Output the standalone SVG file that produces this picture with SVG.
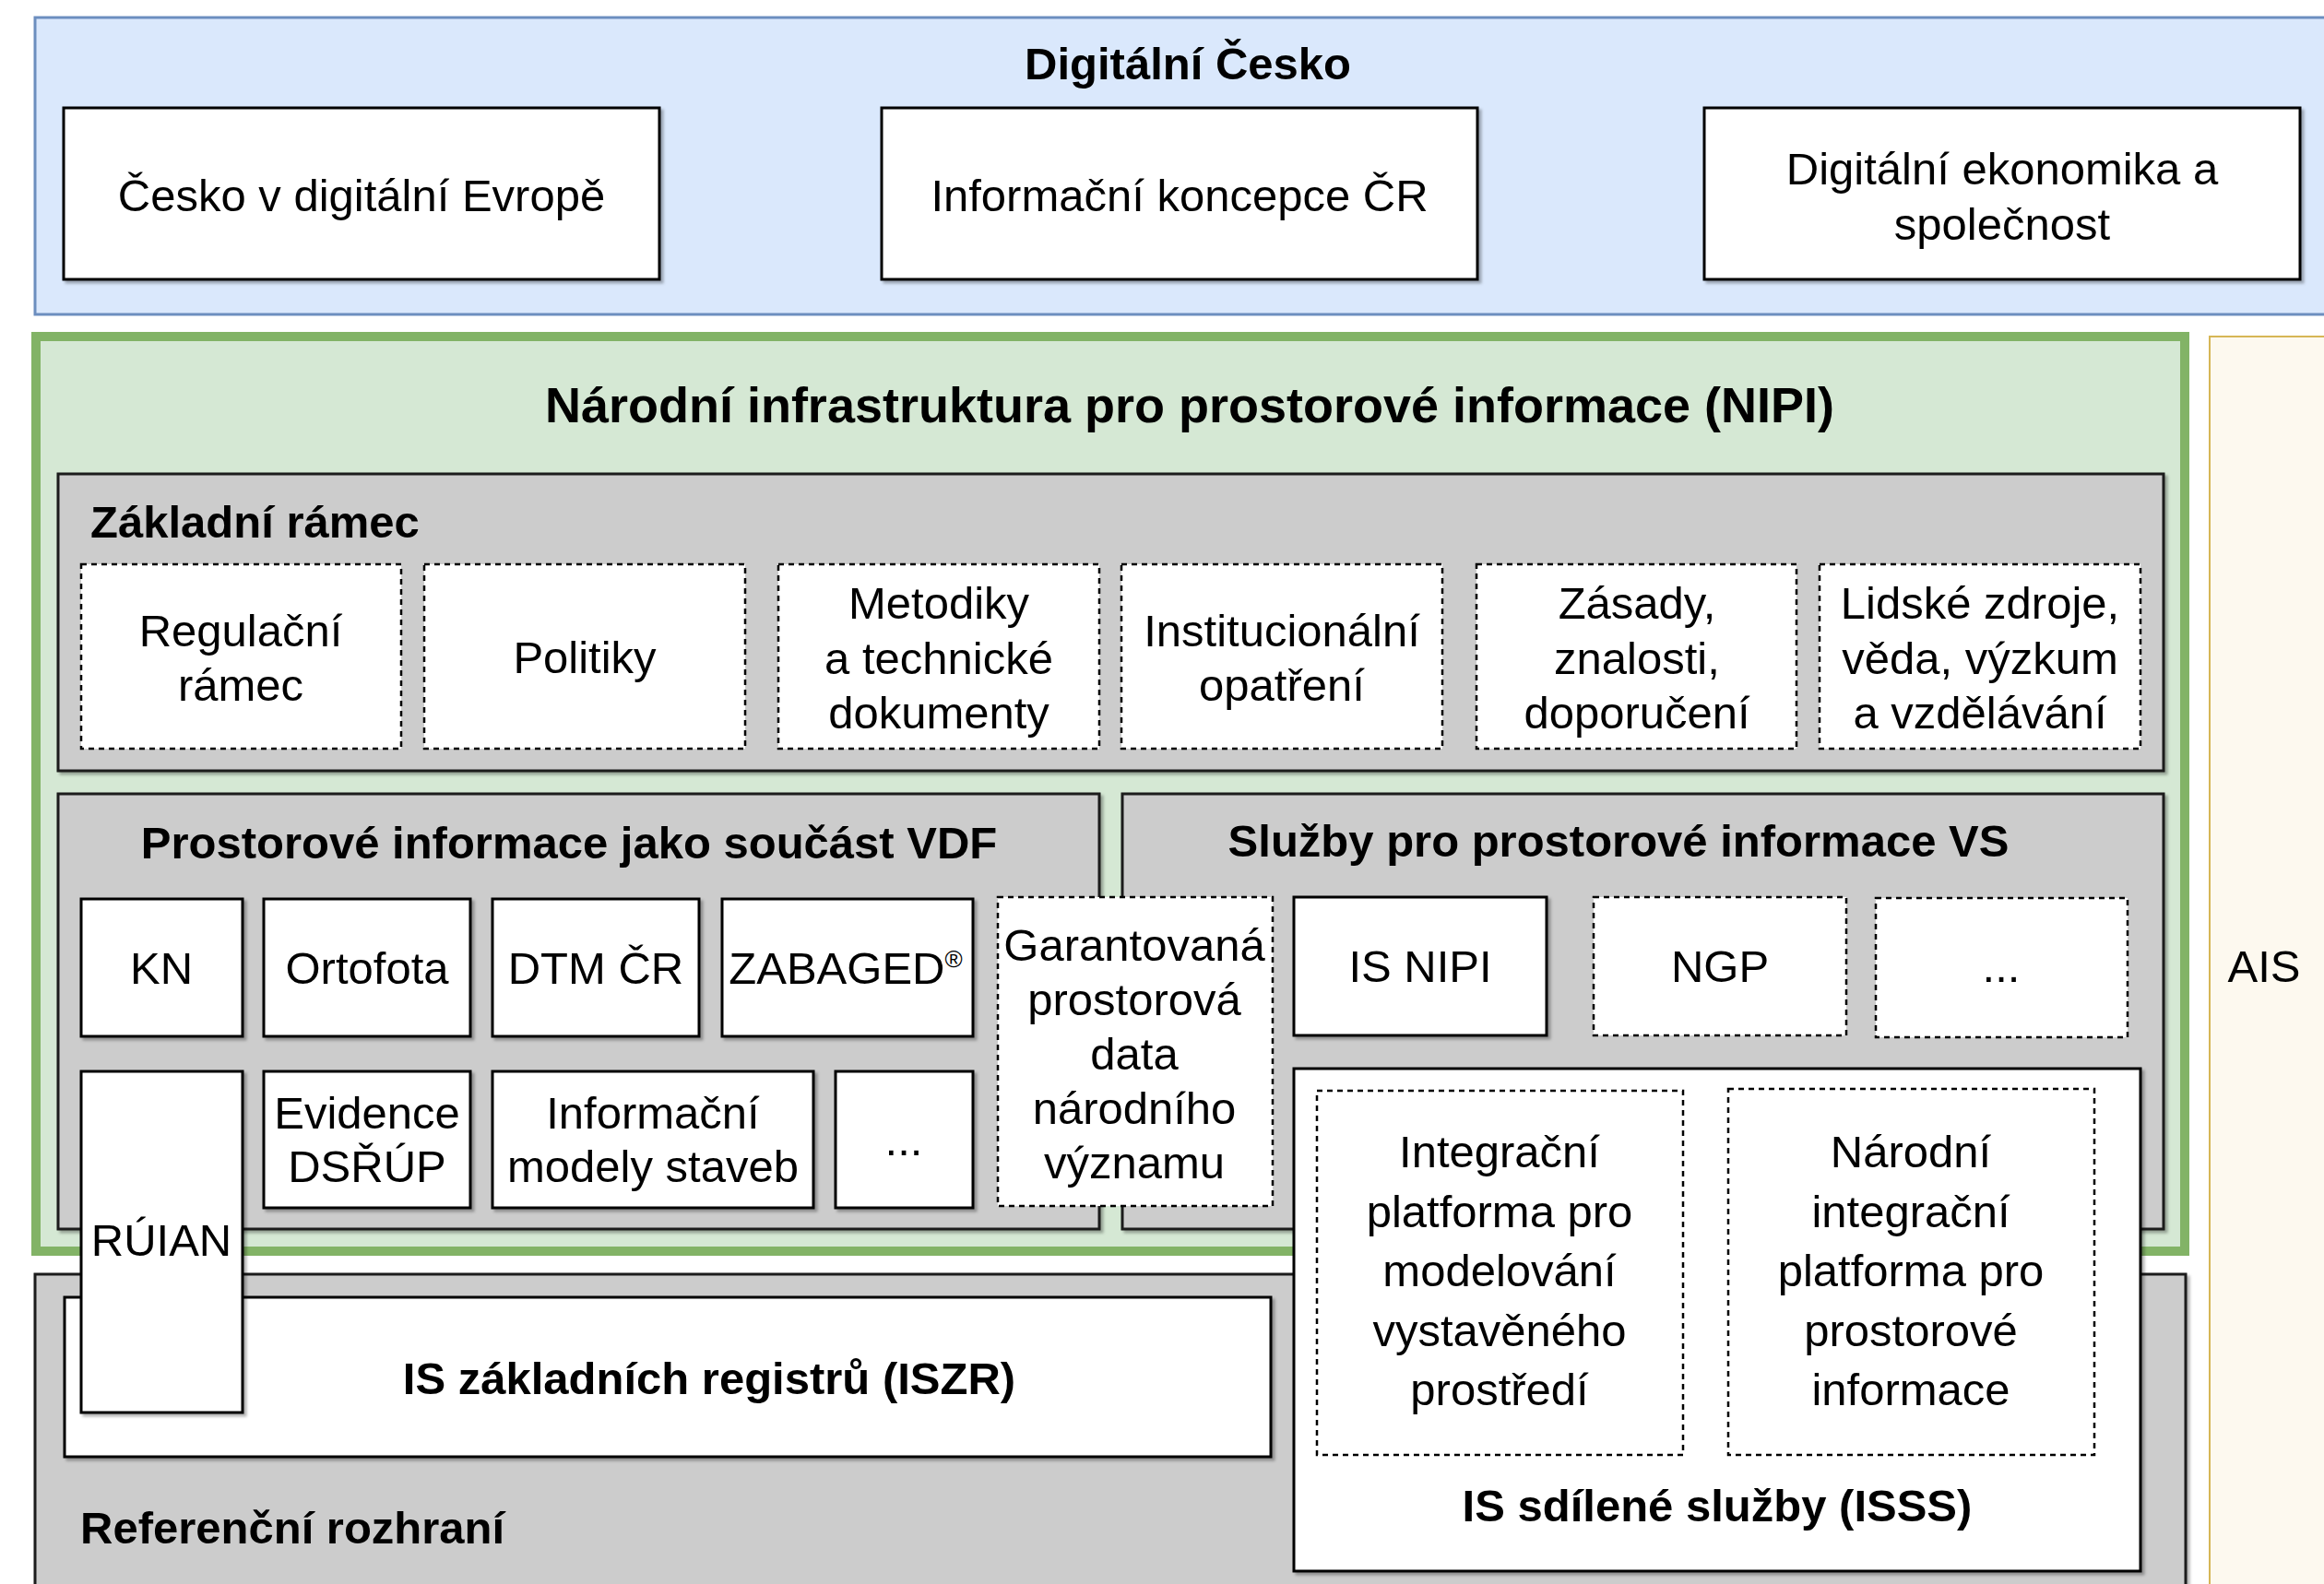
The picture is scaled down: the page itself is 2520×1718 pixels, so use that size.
<svg xmlns="http://www.w3.org/2000/svg" width="2520" height="1718" viewBox="0 0 2520 1718">
<defs>
<filter id="sh" x="-5%" y="-5%" width="115%" height="115%">
<feDropShadow dx="3" dy="3" stdDeviation="1.5" flood-color="#000" flood-opacity="0.3"/>
</filter>
<style>
text{font-family:"Liberation Sans",Arial,sans-serif;font-size:49px;fill:#000;text-anchor:middle}
.b{font-weight:bold}
.l{text-anchor:start}
.solid{fill:#fff;stroke:#000;stroke-width:3}
.dash{fill:#fff;stroke:#000;stroke-width:2.5;stroke-dasharray:6 5}
.gray{fill:#cccccc;stroke:#1a1a1a;stroke-width:3}
</style>
</defs>
<rect width="2520" height="1718" fill="#fff"/>

<g id="digitalni-cesko">
<rect x="38" y="19" width="2490" height="322" fill="#dae8fc" stroke="#6c8ebf" stroke-width="3"/>
<text class="b" x="1288" y="86">Digitální Česko</text>
</g>
<g id="cesko-v-digitalni-evrope">
<rect class="solid" filter="url(#sh)" x="69" y="117" width="646" height="186"/>
<text x="392" y="229">Česko v digitální Evropě</text>
</g>
<g id="informacni-koncepce">
<rect class="solid" filter="url(#sh)" x="956" y="117" width="646" height="186"/>
<text x="1279" y="229">Informační koncepce ČR</text>
</g>
<g id="digitalni-ekonomika">
<rect class="solid" filter="url(#sh)" x="1848" y="117" width="646" height="186"/>
<text x="2171" y="200">Digitální ekonomika a</text>
<text x="2171" y="260">společnost</text>
</g>

<g id="ais">
<rect x="2396" y="365" width="140" height="1370" fill="#fdf9ef" stroke="#d6b656" stroke-width="2"/>
<text x="2455" y="1065">AIS</text>
</g>

<g id="nipi">
<rect x="39" y="365" width="2330" height="992" fill="#d5e8d4" stroke="#82b366" stroke-width="10"/>
<text class="b" x="1290" y="458" style="font-size:54px">Národní infrastruktura pro prostorové informace (NIPI)</text>
</g>

<g id="zakladni-ramec">
<rect class="gray" filter="url(#sh)" x="63" y="514" width="2283" height="322"/>
<text class="b l" x="98" y="583">Základní rámec</text>
</g>
<g id="regulacni-ramec">
<rect class="dash" x="88" y="612" width="347" height="200"/>
<text x="261" y="701">Regulační</text>
<text x="261" y="760">rámec</text>
</g>
<g id="politiky">
<rect class="dash" x="460" y="612" width="348" height="200"/>
<text x="634" y="730">Politiky</text>
</g>
<g id="metodiky">
<rect class="dash" x="844" y="612" width="348" height="200"/>
<text x="1018" y="671">Metodiky</text>
<text x="1018" y="731">a technické</text>
<text x="1018" y="790">dokumenty</text>
</g>
<g id="institucionalni">
<rect class="dash" x="1216" y="612" width="348" height="200"/>
<text x="1390" y="701">Institucionální</text>
<text x="1390" y="760">opatření</text>
</g>
<g id="zasady">
<rect class="dash" x="1601" y="612" width="347" height="200"/>
<text x="1775" y="671">Zásady,</text>
<text x="1775" y="731">znalosti,</text>
<text x="1775" y="790">doporučení</text>
</g>
<g id="lidske-zdroje">
<rect class="dash" x="1973" y="612" width="348" height="200"/>
<text x="2147" y="671">Lidské zdroje,</text>
<text x="2147" y="731">věda, výzkum</text>
<text x="2147" y="790">a vzdělávání</text>
</g>

<g id="prostorove-informace">
<rect class="gray" filter="url(#sh)" x="63" y="861" width="1129" height="472"/>
<text class="b" x="617" y="931">Prostorové informace jako součást VDF</text>
</g>
<g id="sluzby">
<rect class="gray" filter="url(#sh)" x="1217" y="861" width="1129" height="472"/>
<text class="b" x="1755" y="929">Služby pro prostorové informace VS</text>
</g>

<g id="referencni-rozhrani">
<rect class="gray" filter="url(#sh)" x="38" y="1382" width="2332" height="360"/>
<text class="b l" x="87" y="1674">Referenční rozhraní</text>
</g>
<g id="iszr">
<rect class="solid" filter="url(#sh)" x="70" y="1407" width="1308" height="173"/>
<text class="b" x="769" y="1512">IS základních registrů (ISZR)</text>
</g>

<g id="kn">
<rect class="solid" filter="url(#sh)" x="88" y="975" width="175" height="149"/>
<text x="175" y="1067">KN</text>
</g>
<g id="ortofota">
<rect class="solid" filter="url(#sh)" x="286" y="975" width="224" height="149"/>
<text x="398" y="1067">Ortofota</text>
</g>
<g id="dtm">
<rect class="solid" filter="url(#sh)" x="534" y="975" width="224" height="149"/>
<text x="646" y="1067">DTM ČR</text>
</g>
<g id="zabaged">
<rect class="solid" filter="url(#sh)" x="783" y="975" width="272" height="149"/>
<text x="917" y="1067">ZABAGED<tspan style="font-size:26px" dy="-18">®</tspan></text>
</g>
<g id="evidence">
<rect class="solid" filter="url(#sh)" x="286" y="1162" width="224" height="148"/>
<text x="398" y="1224">Evidence</text>
<text x="398" y="1282">DSŘÚP</text>
</g>
<g id="informacni-modely">
<rect class="solid" filter="url(#sh)" x="534" y="1162" width="348" height="148"/>
<text x="708" y="1224">Informační</text>
<text x="708" y="1282">modely staveb</text>
</g>
<g id="dalsi-data">
<rect class="solid" filter="url(#sh)" x="906" y="1162" width="149" height="148"/>
<text x="980" y="1253">...</text>
</g>
<g id="is-nipi">
<rect class="solid" filter="url(#sh)" x="1403" y="973" width="274" height="150"/>
<text x="1540" y="1065">IS NIPI</text>
</g>
<g id="ngp">
<rect class="dash" x="1728" y="973" width="274" height="150"/>
<text x="1865" y="1065">NGP</text>
</g>
<g id="dalsi-sluzby">
<rect class="dash" x="2034" y="974" width="273" height="151"/>
<text x="2170" y="1065">...</text>
</g>

<g id="garantovana">
<rect class="dash" x="1082" y="973" width="298" height="335"/>
<text x="1230" y="1042">Garantovaná</text>
<text x="1230" y="1101">prostorová</text>
<text x="1230" y="1160">data</text>
<text x="1230" y="1219">národního</text>
<text x="1230" y="1278">významu</text>
</g>

<g id="isss">
<rect class="solid" filter="url(#sh)" x="1403" y="1159" width="918" height="545"/>
<text class="b" x="1862" y="1650">IS sdílené služby (ISSS)</text>
</g>
<g id="integracni-platforma">
<rect class="dash" x="1428" y="1183" width="397" height="395"/>
<text x="1626" y="1266">Integrační</text>
<text x="1626" y="1331">platforma pro</text>
<text x="1626" y="1395">modelování</text>
<text x="1626" y="1460">vystavěného</text>
<text x="1626" y="1524">prostředí</text>
</g>
<g id="narodni-integracni-platforma">
<rect class="dash" x="1874" y="1181" width="397" height="397"/>
<text x="2072" y="1266">Národní</text>
<text x="2072" y="1331">integrační</text>
<text x="2072" y="1395">platforma pro</text>
<text x="2072" y="1460">prostorové</text>
<text x="2072" y="1524">informace</text>
</g>

<g id="ruian">
<rect class="solid" filter="url(#sh)" x="88" y="1162" width="175" height="370"/>
<text x="175" y="1362">RÚIAN</text>
</g>

<g id="connectors"></g>
</svg>
